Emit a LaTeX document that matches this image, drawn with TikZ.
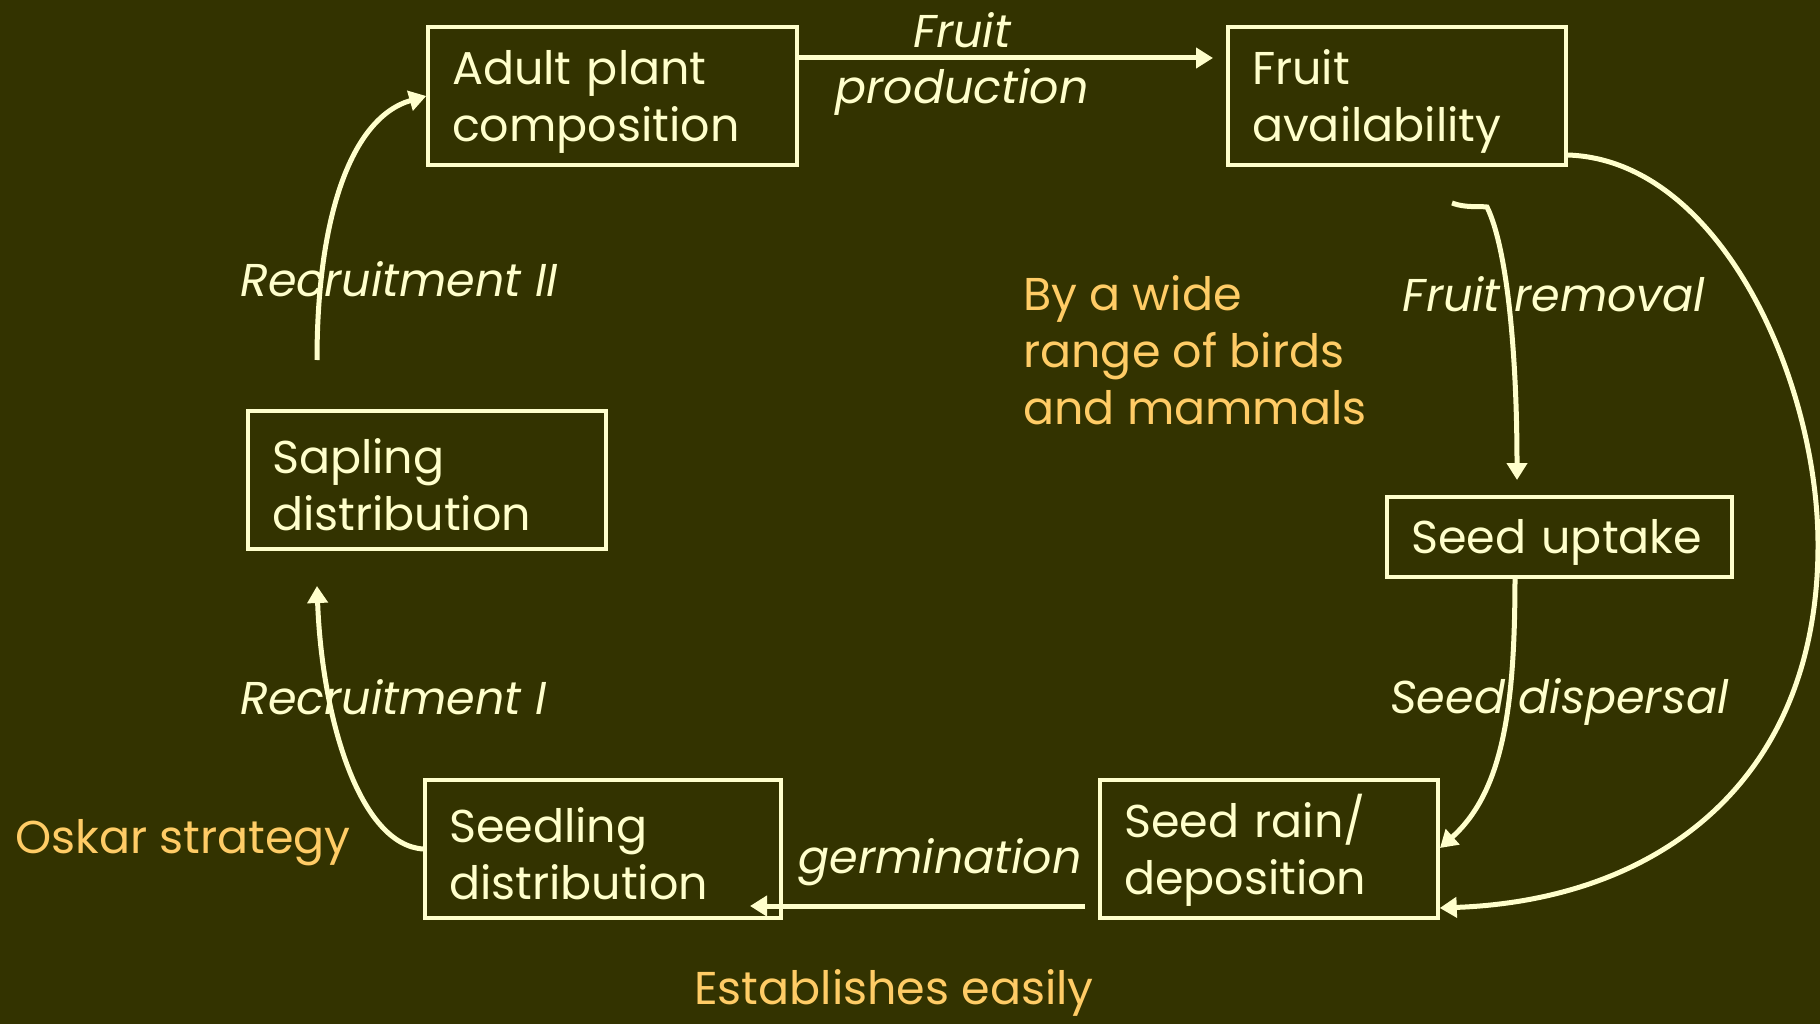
\documentclass[tikz,border=0pt]{standalone}
\usepackage{fontspec}
\setmainfont{Poppins}
\usetikzlibrary{arrows.meta}
\definecolor{bg}{HTML}{333300}
\definecolor{ink}{HTML}{FFFFCC}
\definecolor{orng}{HTML}{FFCC66}
\begin{document}
\begin{tikzpicture}[x=1pt,y=-1pt,
  box/.style={draw=ink,line width=3.5pt,text=ink,inner xsep=24pt,inner ysep=0pt,
    minimum height=138pt,align=left,font=\fontsize{46}{57}\selectfont,
    execute at begin node={\rule{0pt}{45pt}}},
  lbl/.style={text=ink,inner sep=0pt,font=\fontsize{46}{57}\selectfont\itshape},
  note/.style={text=orng,inner sep=0pt,font=\fontsize{46}{57}\selectfont},
  conn/.style={draw=ink,line width=5pt,-{Triangle[length=17pt,width=20pt]}}]
\fill[bg] (0,0) rectangle (1820,1024);
\useasboundingbox (0,0) rectangle (1820,1024);
% boxes
\node[box,text width=321pt] (adult) at (612.5,96) {Adult plant\\composition};
\node[box,text width=290pt] (fruit) at (1397,96) {Fruit\\availability};
\node[box,text width=310pt] (sapling) at (427,480) {Sapling\\distribution};
\node[box,text width=297pt,minimum height=80pt] (seedup) at (1559.5,537) {Seed uptake};
\node[box,text width=308pt] (seedling) at (603,849) {Seedling\\distribution};
\node[box,text width=290pt] (seedrain) at (1269,849) {Seed rain/\\deposition};
% labels
\node[lbl,anchor=base] (l1) at (962,48) {Fruit};
\node[lbl,anchor=base] (l2) at (962,104) {production};
\node[lbl,anchor=base] (l3) at (1554,312) {Fruit removal};
\node[lbl,anchor=base west] (l4) at (240,297) {Recruitment II};
\node[lbl,anchor=base west] (l5) at (240,714) {Recruitment I};
\node[lbl,anchor=base west] (l6) at (1390,713) {Seed dispersal};
\node[lbl,anchor=base] (l7) at (940,873) {germination};
\node[note,anchor=base west] (n1) at (1023,310) {By a wide};
\node[note,anchor=base west] (n2) at (1023,367) {range of birds};
\node[note,anchor=base west] (n3) at (1023,424) {and mammals};
\node[note,anchor=base west] (n4) at (15,853) {Oskar strategy};
\node[note,anchor=base] (n5) at (894,1004) {Establishes easily};
% free ends
\coordinate (r2s) at (317,360);
\coordinate (r1t) at (317,586);
\coordinate (frs) at (1452,203);
\coordinate (frh) at (1487,207);
\coordinate (frt) at (1517,480);
\coordinate (sds) at (1515,575);
\coordinate (sdt) at (1440,848);
\coordinate (fpt) at (1213,58);
\coordinate (gms) at (1085,906);
\coordinate (gmt) at (750,906);
\coordinate (arcm) at (1818,545);
% connectors
\draw[conn] (adult.east |- fpt) -- (fpt);
\draw[conn] (r2s) .. controls (317,220) and (350,118) .. (adult.west);
\draw[conn] (seedling.west) .. controls (360,845) and (322,720) .. (r1t);
\draw[conn] (frs) .. controls (1465,208) and (1478,206) .. (frh) .. controls (1508,250) and (1517,360) .. (frt);
\draw[conn] (sds) .. controls (1515,700) and (1505,790) .. (sdt);
\draw[conn] (gms) -- (gmt);
\draw[conn] (fruit.east |- 0,155) .. controls (1720,160) and (1818,380) .. (arcm) .. controls (1818,780) and (1660,900) .. (seedrain.east |- 0,908);
\end{tikzpicture}
\end{document}
